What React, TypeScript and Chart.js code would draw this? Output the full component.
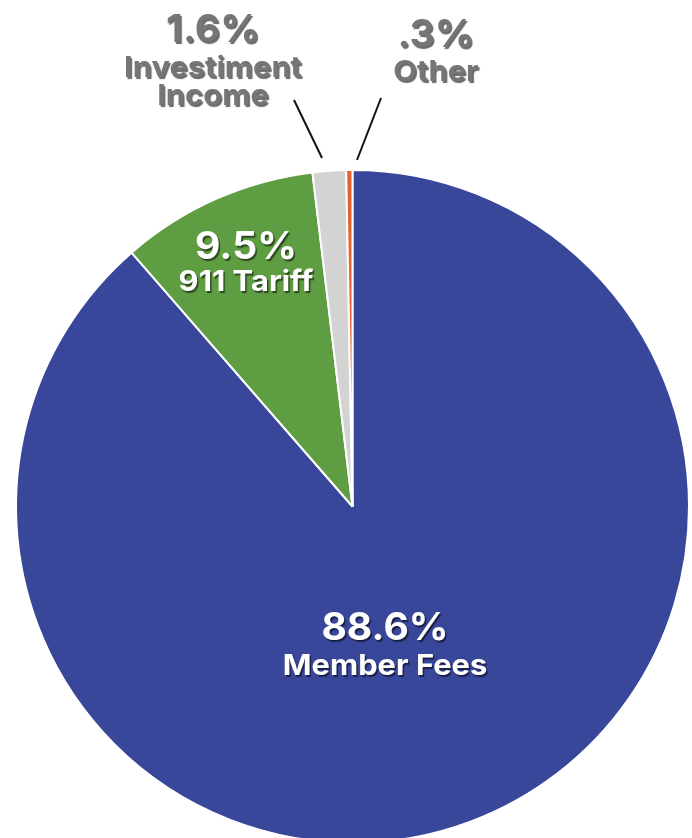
import React, { useEffect, useRef } from 'react';
import { Chart, registerables } from 'chart.js';

Chart.register(...registerables);

const categories = ['Member Fees', '911 Tariff', 'Investment Income', 'Other'];
const values = [88.6, 9.5, 1.6, 0.3];
const valueLabels = ['88.6%', '9.5%', '1.6%', '.3%'];
const nameLines = [['Member Fees'], ['911 Tariff'], ['Investiment', 'Income'], ['Other']];
const colors = ['#39479b', '#5e9d42', '#d3d3d3', '#e5622a'];

// label layout, offsets from pie centre (px at reference radius 336.5)
const labelLayout = [
  { x: 32.5, pctBase: 133.5, nameBases: [168.5], color: '#ffffff', leader: null },
  { x: -106.5, pctBase: -247.5, nameBases: [-215.5], color: '#ffffff', leader: null },
  { x: -139.5, pctBase: -464.5, nameBases: [-429.5, -401.5], color: '#767676', leader: [-30.5, -348.5, -58.5, -406.5] },
  { x: 83.5, pctBase: -459.5, nameBases: [-425.5], color: '#767676', leader: [4.5, -346.5, 28.5, -408.5] },
];

function drawStretched(ctx: CanvasRenderingContext2D, text: string, x: number, y: number, sx: number) {
  ctx.save();
  ctx.translate(x, y);
  ctx.scale(sx, 1);
  ctx.fillText(text, 0, 0);
  ctx.restore();
}

const labelPlugin = {
  id: 'customLabels',
  afterDraw(chart: any) {
    const meta = chart.getDatasetMeta(0);
    const arc0 = meta.data[0];
    if (!arc0) return;
    const cx = arc0.x;
    const cy = arc0.y;
    const s = arc0.outerRadius / 336.5;
    const ctx = chart.ctx;
    ctx.save();
    labelLayout.forEach((l, i) => {
      if (l.leader) {
        ctx.beginPath();
        ctx.strokeStyle = '#111111';
        ctx.lineWidth = 2;
        ctx.moveTo(cx + l.leader[0] * s, cy + l.leader[1] * s);
        ctx.lineTo(cx + l.leader[2] * s, cy + l.leader[3] * s);
        ctx.stroke();
      }
      ctx.textAlign = 'center';
      ctx.textBaseline = 'alphabetic';
      ctx.shadowColor = l.color === '#ffffff' ? 'rgba(0,0,0,0.55)' : 'rgba(40,40,40,0.7)';
      ctx.shadowOffsetX = 1.5;
      ctx.shadowOffsetY = 1.5;
      ctx.shadowBlur = 1;
      ctx.fillStyle = l.color;
      ctx.font = '700 38px Inter';
      drawStretched(ctx, valueLabels[i], cx + l.x * s, cy + l.pctBase * s, 1.03);
      ctx.font = '700 29px Inter';
      nameLines[i].forEach((line, j) => {
        drawStretched(ctx, line, cx + l.x * s, cy + l.nameBases[j] * s, 1.065);
      });
      ctx.shadowColor = 'transparent';
    });
    ctx.restore();
  },
};

export default function App() {
  const ref = useRef<HTMLCanvasElement>(null);
  useEffect(() => {
    if (!ref.current) return;
    const chart = new Chart(ref.current, {
      type: 'pie',
      data: {
        labels: categories,
        datasets: [
          {
            data: values,
            backgroundColor: colors,
            borderColor: '#ffffff',
            borderWidth: 2,
          },
        ],
      },
      options: {
        responsive: false,
        animation: false,
        layout: { padding: { left: 15, right: 2, top: 169, bottom: 6 } },
        plugins: {
          legend: { display: false },
          tooltip: { enabled: false },
        },
      },
      plugins: [labelPlugin],
    });
    return () => chart.destroy();
  }, []);
  return (
    <div style={{ position: 'fixed', left: 0, top: 0, width: 692, height: 838, overflow: 'hidden', background: '#ffffff' }}>
      <canvas ref={ref} width={692} height={850} style={{ display: 'block' }} />
    </div>
  );
}
